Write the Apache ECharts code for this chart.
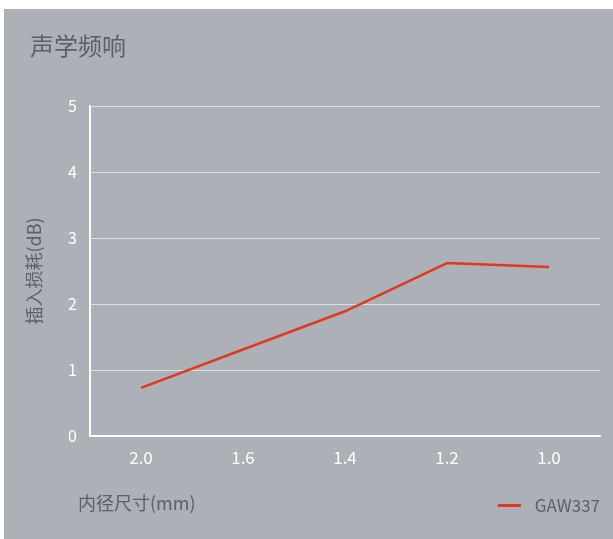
<!DOCTYPE html>
<html><head><meta charset="utf-8">
<script src="https://cdn.jsdelivr.net/npm/echarts@6/dist/echarts.min.js"></script>
<style>
html,body{margin:0;padding:0;background:#fff;}
#c{position:absolute;left:4px;top:9px;width:609px;height:530px;background:#abb1b6;}
</style></head>
<body><div id="c"></div>
<script>
const titleText = '声学频响';
const xAxisName = '内径尺寸(mm)';
const yAxisName = '插入损耗(dB)';
const categories = ['2.0', '1.6', '1.4', '1.2', '1.0'];
const seriesName = 'GAW337';
const seriesValues = [0.73, 1.31, 1.89, 2.62, 2.56];
const yTicks = [0, 1, 2, 3, 4, 5];

const chart = echarts.init(document.getElementById('c'));
chart.setOption({
  backgroundColor: '#abb1b6',
  textStyle: {fontFamily: 'Noto Sans CJK SC, Noto Sans, sans-serif'},
  title: [
    {text: titleText, left: 26, top: 25, padding: 0, textStyle: {color: '#5b6167', fontSize: 24, fontWeight: 'normal'}},
    {text: xAxisName, left: 74, top: 485, padding: 0, textStyle: {color: '#5b6167', fontSize: 18, fontWeight: 'normal'}}
  ],
  legend: {
    data: [seriesName], right: 13, top: 488, padding: 0, icon: 'rect', itemWidth: 23, itemHeight: 3, itemGap: 12,
    textStyle: {color: '#5b6167', fontSize: 17, padding: [0, 0, 0, 9]}
  },
  grid: {left: 86, right: 13, top: 97, bottom: 103, containLabel: false},
  xAxis: {
    type: 'category', data: categories, boundaryGap: true,
    axisLine: {lineStyle: {color: '#ffffff', width: 2}},
    axisTick: {show: false},
    axisLabel: {color: '#ffffff', fontSize: 17, margin: 13}
  },
  yAxis: {
    type: 'value', min: yTicks[0], max: yTicks[yTicks.length - 1], interval: 1,
    name: yAxisName, nameLocation: 'middle', nameGap: 47, nameRotate: 90,
    nameTextStyle: {color: '#5b6167', fontSize: 18},
    axisLine: {show: true, lineStyle: {color: '#ffffff', width: 2}},
    axisTick: {show: false},
    axisLabel: {color: '#ffffff', fontSize: 16, margin: 13},
    splitLine: {lineStyle: {color: '#dcdedf', width: 1}}
  },
  series: [{
    name: seriesName, type: 'line', data: seriesValues, showSymbol: false, symbol: 'none',
    lineStyle: {color: '#e03a1e', width: 2.5}, itemStyle: {color: '#e03a1e'}
  }]
});
</script></body></html>
